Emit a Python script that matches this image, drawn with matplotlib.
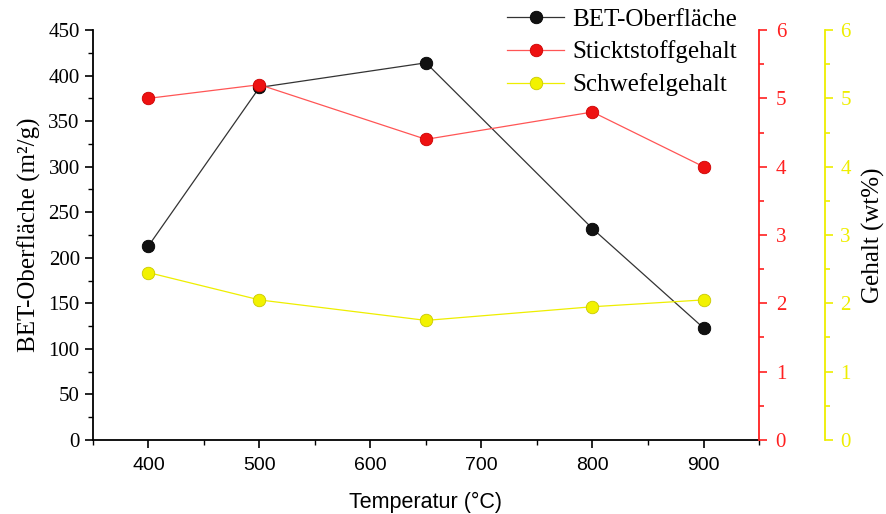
import matplotlib.pyplot as plt
from matplotlib.ticker import MultipleLocator

temps = [400, 500, 650, 800, 900]
bet = [213, 387, 414, 232, 123]
stickstoff = [5.0, 5.2, 4.4, 4.8, 4.0]
schwefel = [2.45, 2.05, 1.75, 1.95, 2.05]

RED = "#ff2020"
YEL = "#eeee00"
SERIF = "Liberation Serif"
SANS = "Liberation Sans"

fig = plt.figure(figsize=(8.87, 5.14), dpi=100)
ax = fig.add_axes([0.1048, 0.144, 0.7509, 0.7976])
ax2 = ax.twinx()
ax3 = ax.twinx()

mk = dict(marker="o", markersize=9, markeredgewidth=0.6, linewidth=0.9)
l1, = ax.plot(temps, bet, color="#333333", markerfacecolor="#111111",
              markeredgecolor="#000000", label="BET-Oberfläche", **mk)
l2, = ax2.plot(temps, stickstoff, color="#ff5555", markerfacecolor="#ee1111",
               markeredgecolor="#cc0000", label="Sticktstoffgehalt", **mk)
l3, = ax3.plot(temps, schwefel, color=YEL, markerfacecolor="#f2f200",
               markeredgecolor="#c8c800", label="Schwefelgehalt", **mk)

ax.set_xlim(350, 950)
ax.set_ylim(0, 450)
ax2.set_ylim(0, 6)
ax3.set_ylim(0, 6)

ax.spines["top"].set_visible(False)
ax.spines["right"].set_visible(False)
for a in (ax2, ax3):
    a.spines["top"].set_visible(False)
    a.spines["left"].set_visible(False)
    a.spines["bottom"].set_visible(False)
ax2.spines["right"].set_color(RED)
ax3.spines["right"].set_color(YEL)
ax3.spines["right"].set_position(("axes", 1.099))
for a in (ax, ax2, ax3):
    for s in a.spines.values():
        s.set_linewidth(1.3)

ax.set_xticks([400, 500, 600, 700, 800, 900])
ax.xaxis.set_minor_locator(MultipleLocator(50))
ax.yaxis.set_major_locator(MultipleLocator(50))
ax.yaxis.set_minor_locator(MultipleLocator(25))
for a in (ax2, ax3):
    a.yaxis.set_major_locator(MultipleLocator(1))
    a.yaxis.set_minor_locator(MultipleLocator(0.5))

ax.tick_params(which="major", direction="out", length=6, width=1.2, labelsize=15)
ax.tick_params(which="minor", direction="out", length=3.5, width=1.0)
ax.tick_params(axis="x", labelsize=14, pad=6)
ax2.tick_params(which="both", colors=RED, width=1.2, labelsize=15, pad=6)
ax2.tick_params(which="major", length=6)
ax2.tick_params(which="minor", length=3.5)
ax3.tick_params(which="both", colors=YEL, width=1.2, labelsize=15, pad=5)
ax3.tick_params(which="major", length=6)
ax3.tick_params(which="minor", length=3.5)
for a in (ax, ax2, ax3):
    for lab in a.get_yticklabels():
        lab.set_family(SERIF)
for lab in ax.get_xticklabels():
    lab.set_family(SANS)

ax.set_xlabel("Temperatur (°C)", family=SANS, fontsize=15.5, labelpad=13)
ax.set_ylabel("BET-Oberfläche (m²/g)", family=SERIF, fontsize=18, labelpad=5)
ax3.set_ylabel("Gehalt (wt%)", family=SERIF, fontsize=18, labelpad=8)

ax.legend(handles=[l1, l2, l3], loc="upper left",
          bbox_to_anchor=(507 / 887, 1 - 8 / 514), bbox_transform=fig.transFigure,
          frameon=False, prop={"family": SERIF, "size": 18},
          borderpad=0, borderaxespad=0,
          handlelength=2.3, labelspacing=0.4, handletextpad=0.3)

fig.savefig("out.png", dpi=100)
